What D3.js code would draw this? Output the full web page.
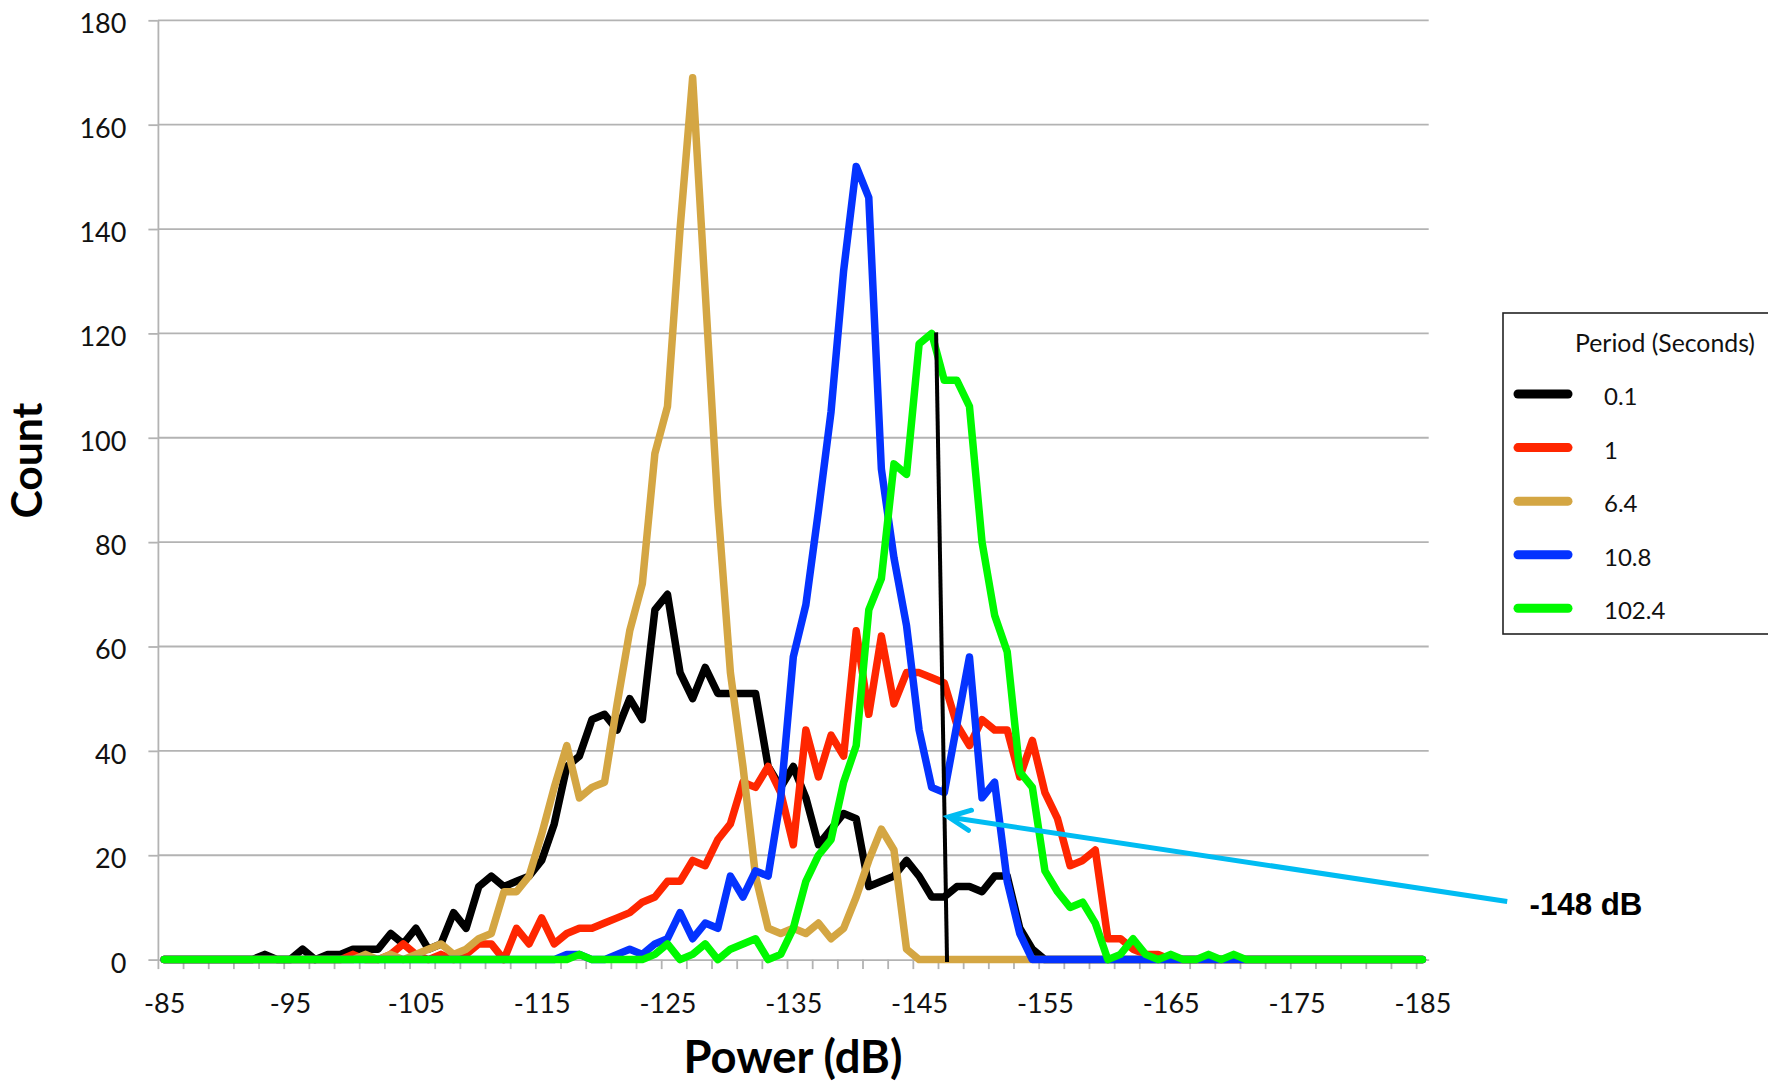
<!DOCTYPE html>
<html>
<head>
<meta charset="utf-8">
<script src="https://cdn.jsdelivr.net/npm/d3@7"></script>
<style>
html,body{margin:0;padding:0;background:#fff;}
svg{display:block;}
</style>
</head>
<body>
<svg id="chart" width="1768" height="1088"></svg>
<script>
// ---------------- DATA ----------------
const categories = [
 -85,-86,-87,-88,-89,-90,-91,-92,-93,-94,
 -95,-96,-97,-98,-99,-100,-101,-102,-103,-104,
 -105,-106,-107,-108,-109,-110,-111,-112,-113,-114,
 -115,-116,-117,-118,-119,-120,-121,-122,-123,-124,
 -125,-126,-127,-128,-129,-130,-131,-132,-133,-134,
 -135,-136,-137,-138,-139,-140,-141,-142,-143,-144,
 -145,-146,-147,-148,-149,-150,-151,-152,-153,-154,
 -155,-156,-157,-158,-159,-160,-161,-162,-163,-164,
 -165,-166,-167,-168,-169,-170,-171,-172,-173,-174,
 -175,-176,-177,-178,-179,-180,-181,-182,-183,-184,
 -185];

const labelValues = [-85,-95,-105,-115,-125,-135,-145,-155,-165,-175,-185];
const xTickLabels = ["-85","-95","-105","-115","-125","-135","-145","-155","-165","-175","-185"];
const yTicks = [0,20,40,60,80,100,120,140,160,180];

const seriesNames = ["0.1","1","6.4","10.8","102.4"];

const period01 = [
 0,0,0,0,0,0,0,0,1,0,
 0,2,0,1,1,2,2,2,5,3,
 6,2,3,9,6,14,16,14,15,16,
 19,26,37,39,46,47,44,50,46,67,
 70,55,50,56,51,51,51,51,37,33,
 37,31,22,25,28,27,14,15,16,19,
 16,12,12,14,14,13,16,16,6,2,
 0,0,0,0,0,0,0,0,0,0,
 0,0,0,0,0,0,0,0,0,0,
 0,0,0,0,0,0,0,0,0,0,
 0];

const period1 = [
 0,0,0,0,0,0,0,0,0,0,
 0,0,0,0,0,1,0,0,1,3,
 1,0,1,0,1,3,3,0,6,3,
 8,3,5,6,6,7,8,9,11,12,
 15,15,19,18,23,26,34,33,37,32,
 22,44,35,43,39,63,47,62,49,55,
 55,54,53,45,41,46,44,44,35,42,
 32,27,18,19,21,4,4,2,1,1,
 0,0,0,0,0,0,0,0,0,0,
 0,0,0,0,0,0,0,0,0,0,
 0];

const period64 = [
 0,0,0,0,0,0,0,0,0,0,
 0,0,0,0,0,0,1,0,1,0,
 1,2,3,1,2,4,5,13,13,16,
 24,33,41,31,33,34,49,63,72,97,
 106,140,169,128,87,55,37,16,6,5,
 6,5,7,4,6,12,19,25,21,2,
 0,0,0,0,0,0,0,0,0,0,
 0,0,0,0,0,0,0,0,0,0,
 0,0,0,0,0,0,0,0,0,0,
 0,0,0,0,0,0,0,0,0,0,
 0];

const period108 = [
 0,0,0,0,0,0,0,0,0,0,
 0,0,0,0,0,0,0,0,0,0,
 0,0,0,0,0,0,0,0,0,0,
 0,0,1,1,0,0,1,2,1,3,
 4,9,4,7,6,16,12,17,16,31,
 58,68,86,105,132,152,146,94,77,64,
 44,33,32,45,58,31,34,15,5,0,
 0,0,0,0,0,0,0,0,0,0,
 0,0,0,0,0,0,0,0,0,0,
 0,0,0,0,0,0,0,0,0,0,
 0];

const period1024 = [
 0,0,0,0,0,0,0,0,0,0,
 0,0,0,0,0,0,0,0,0,0,
 0,0,0,0,0,0,0,0,0,0,
 0,0,0,1,0,0,0,0,0,1,
 3,0,1,3,0,2,3,4,0,1,
 6,15,20,23,34,41,67,73,95,93,
 118,120,111,111,106,80,66,59,36,33,
 17,13,10,11,7,0,1,4,1,0,
 1,0,0,1,0,1,0,0,0,0,
 0,0,0,0,0,0,0,0,0,0,
 0];

// annotation (data units: x in dB, y in count)
const markerLine = [[-146.35, 120.2], [-147.22, -0.45]];
const arrowTail = [-191.74, 11.13];
const arrowHead = [-147.33, 27.33];
const annotationText = "-148 dB";

// ---------------- LAYOUT / STYLE ----------------
const colors = ["#000000", "#FF2600", "#D4A643", "#0433FF", "#00F900"];
const seriesValues = [period01, period1, period64, period108, period1024];
const series = seriesNames.map((n, k) => ({name: n, values: seriesValues[k], color: colors[k]}));

const plot = {left: 157.9, right: 1428.7, top: 20.3, bottom: 959.6};
const gridColor = "#b3b3b3";
const svg = d3.select("#chart");
svg.append("rect").attr("width", 1768).attr("height", 1088).attr("fill", "#fff");

const x = d3.scaleLinear().domain([categories[0] + 0.5, categories[categories.length - 1] - 0.5]).range([plot.left, plot.right]);
const y = d3.scaleLinear().domain([0, 180]).range([plot.bottom, plot.top]);

// gridlines
svg.append("g").selectAll("line").data(yTicks.filter(v => v > 0)).join("line")
  .attr("x1", plot.left).attr("x2", plot.right)
  .attr("y1", d => y(d)).attr("y2", d => y(d))
  .attr("stroke", gridColor).attr("stroke-width", 1.8);

// y axis
const yAxisG = svg.append("g").attr("transform", `translate(${plot.left},0)`)
  .call(d3.axisLeft(y).tickValues(yTicks).tickSize(9.5).tickSizeOuter(0).tickPadding(22).tickFormat(d3.format("d")));
yAxisG.select(".domain").attr("stroke", gridColor).attr("stroke-width", 1.8);
yAxisG.selectAll(".tick line").attr("stroke", gridColor).attr("stroke-width", 1.8);
yAxisG.selectAll(".tick text").attr("font-family", "Lato, 'Open Sans', sans-serif")
  .attr("font-size", 27).attr("fill", "#111").attr("dy", "0.46em");

// x axis: tick marks at every second category boundary
const tickBounds = categories.filter((c, i) => i % 2 === 0).map(c => c + 0.5);
const xAxisG = svg.append("g").attr("transform", `translate(0,${plot.bottom})`)
  .call(d3.axisBottom(x).tickValues(tickBounds).tickSize(9.5).tickSizeOuter(0).tickFormat(""));
xAxisG.select(".domain").attr("stroke", gridColor).attr("stroke-width", 1.8);
xAxisG.selectAll(".tick line").attr("stroke", gridColor).attr("stroke-width", 1.8);

// x labels (every 10 categories)
const xLabG = svg.append("g").attr("transform", `translate(0,${plot.bottom})`)
  .call(d3.axisBottom(x).tickValues(labelValues).tickSize(0).tickSizeOuter(0)
    .tickFormat((d, i) => xTickLabels[i]));
xLabG.select(".domain").remove();
xLabG.selectAll(".tick text").attr("font-family", "Lato, 'Open Sans', sans-serif")
  .attr("font-size", 27).attr("fill", "#111").attr("y", 53.7).attr("dy", 0);

// series lines
const line = d3.line().x((d, i) => x(categories[i])).y(d => y(d));
svg.append("g").selectAll("path").data(series).join("path")
  .attr("d", d => line(d.values))
  .attr("fill", "none").attr("stroke", d => d.color)
  .attr("stroke-width", 7.5).attr("stroke-linejoin", "round").attr("stroke-linecap", "round");

// vertical marker line
svg.append("line")
  .attr("x1", x(markerLine[0][0])).attr("y1", y(markerLine[0][1]))
  .attr("x2", x(markerLine[1][0])).attr("y2", y(markerLine[1][1]))
  .attr("stroke", "#000").attr("stroke-width", 4);

// arrow
const arrowColor = "#00BCF2";
const tx = x(arrowTail[0]), ty = y(arrowTail[1]);
const hx = x(arrowHead[0]), hy = y(arrowHead[1]);
svg.append("line").attr("x1", tx).attr("y1", ty).attr("x2", hx).attr("y2", hy)
  .attr("stroke", arrowColor).attr("stroke-width", 5);
const ang = Math.atan2(ty - hy, tx - hx);
const wl = 24, wa = 25 * Math.PI / 180;
const wing = [
  [hx + wl * Math.cos(ang - wa), hy + wl * Math.sin(ang - wa)],
  [hx, hy],
  [hx + wl * Math.cos(ang + wa), hy + wl * Math.sin(ang + wa)]
];
svg.append("path").attr("d", d3.line()(wing)).attr("fill", "none")
  .attr("stroke", arrowColor).attr("stroke-width", 5).attr("stroke-linejoin", "miter").attr("stroke-linecap", "round");

function fit(sel, w) {
  const L = sel.node().getComputedTextLength();
  const fs = parseFloat(sel.attr("font-size"));
  if (L > 0) sel.attr("font-size", fs * w / L);
}

const ann = svg.append("text").text(annotationText)
  .attr("x", 1529.5).attr("y", 915)
  .attr("font-family", "'Liberation Sans', Arial, sans-serif").attr("font-weight", "bold")
  .attr("font-size", 30).attr("fill", "#000");
fit(ann, 113);

// axis titles
const yTitle = svg.append("text").text("Count")
  .attr("transform", "translate(42,460.6) rotate(-90)")
  .attr("text-anchor", "middle")
  .attr("font-family", "Lato, 'Open Sans', sans-serif").attr("font-weight", "bold")
  .attr("font-size", 42).attr("fill", "#000");
fit(yTitle, 116);

const xTitle = svg.append("text").text("Power (dB)")
  .attr("x", 793).attr("y", 1073).attr("text-anchor", "middle")
  .attr("font-family", "Lato, 'Open Sans', sans-serif").attr("font-weight", "bold")
  .attr("font-size", 42).attr("fill", "#000");
fit(xTitle, 219);

// legend
const lg = svg.append("g");
lg.append("rect").attr("x", 1503).attr("y", 313).attr("width", 300).attr("height", 321)
  .attr("fill", "#fff").attr("stroke", "#222").attr("stroke-width", 1.6);
const lt = lg.append("text").text("Period (Seconds)")
  .attr("x", 1665).attr("y", 352).attr("text-anchor", "middle")
  .attr("font-family", "Lato, 'Open Sans', sans-serif").attr("font-size", 24).attr("fill", "#111");
fit(lt, 180);
const legendY = d3.scalePoint().domain(seriesNames).range([394, 608.3]);
const items = lg.selectAll("g.item").data(series).join("g").attr("class", "item")
  .attr("transform", d => `translate(0,${legendY(d.name)})`);
items.append("line").attr("x1", 1518).attr("x2", 1568).attr("y1", 0).attr("y2", 0)
  .attr("stroke", d => d.color).attr("stroke-width", 9).attr("stroke-linecap", "round");
items.append("text").text(d => d.name).attr("x", 1604).attr("y", 11)
  .attr("font-family", "Lato, 'Open Sans', sans-serif").attr("font-size", 24).attr("fill", "#111");
</script>
</body>
</html>
